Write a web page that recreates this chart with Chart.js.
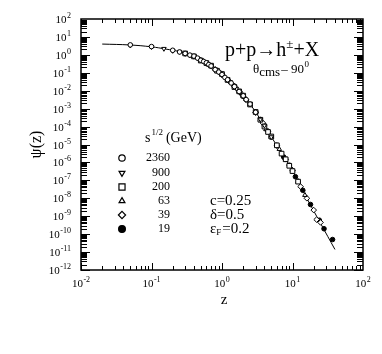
<!DOCTYPE html>
<html>
<head>
<meta charset="utf-8">
<script src="https://cdn.jsdelivr.net/npm/chart.js@4.4.1/dist/chart.umd.min.js"></script>
<style>
html, body { margin: 0; padding: 0; background: #fff; }
</style>
</head>
<body>
<canvas id="myChart" width="382" height="354"></canvas>
<script>
// values
var energies = ['2360', '900', '200', '63', '39', '19'];

var z2360   = [0.05, 0.1, 0.2, 0.25, 0.3, 0.35, 0.4, 0.45, 0.5, 0.55, 0.6, 0.65, 0.7, 0.8, 0.9, 1.0, 1.1, 1.2, 1.35, 1.5, 1.75, 2.0, 2.2, 2.5, 3.0];
var psi2360 = [3.6, 2.9, 1.8, 1.45, 1.2, 0.97, 0.85, 0.66, 0.5, 0.43, 0.36, 0.29, 0.24, 0.15, 0.11, 0.08, 0.055, 0.041, 0.027, 0.017, 9.0e-3, 5.2e-3, 3.2e-3, 1.8e-3, 6.3e-4];

var z900   = [0.05, 0.1, 0.15, 0.2, 0.25, 0.3, 0.35, 0.4, 0.45, 0.5, 0.6, 0.7, 0.8, 0.9, 1.0, 1.15, 1.3, 1.6, 1.8, 2.0, 2.5, 3.0, 3.5, 4.0, 5.0];
var psi900 = [3.4, 2.8, 2.2, 1.7, 1.5, 1.15, 0.95, 0.8, 0.64, 0.53, 0.33, 0.23, 0.16, 0.11, 0.075, 0.047, 0.031, 0.013, 7.9e-3, 4.8e-3, 1.9e-3, 6.0e-4, 2.5e-4, 1.15e-4, 2.6e-5];

var z200   = [0.3, 0.4, 0.5, 0.6, 0.7, 0.85, 1.0, 1.2, 1.5, 1.75, 2.0, 2.5, 3.0, 3.5, 4.0, 4.5, 5.0, 6.0, 7.0, 8.0, 9.0, 10, 12];
var psi200 = [1.2, 0.82, 0.48, 0.35, 0.25, 0.13, 0.085, 0.04, 0.016, 9.2e-3, 5.3e-3, 1.7e-3, 6.5e-4, 2.4e-4, 1.0e-4, 5.0e-5, 2.8e-5, 9.0e-6, 3.1e-6, 1.5e-6, 6.5e-7, 3.3e-7, 8.5e-8];

var z63   = [0.5, 0.65, 0.8, 1.0, 1.2, 1.5, 1.8, 2.2, 2.5, 3.0, 3.5, 4.2, 5.0, 6.5, 8.0, 10, 12, 15];
var psi63 = [0.52, 0.28, 0.16, 0.082, 0.038, 0.017, 8.2e-3, 3.3e-3, 1.7e-3, 6.2e-4, 2.5e-4, 7.0e-5, 2.6e-5, 5.5e-6, 1.4e-6, 3.8e-7, 9.0e-8, 1.5e-8];

var z39   = [0.6, 0.8, 1.0, 1.25, 1.5, 1.8, 2.2, 3.0, 3.8, 4.5, 6.0, 8.0, 10, 13, 16, 20, 22, 25];
var psi39 = [0.34, 0.15, 0.082, 0.035, 0.018, 8.0e-3, 3.1e-3, 6.0e-4, 1.6e-4, 5.5e-5, 8.5e-6, 1.5e-6, 3.6e-7, 4.5e-8, 1.0e-8, 2.2e-9, 6.5e-10, 4.5e-10];

var z19   = [1.0, 1.5, 2.0, 3.0, 4.0, 5.0, 6.0, 7.5, 9.0, 11, 14, 18, 24, 28, 37];
var psi19 = [0.078, 0.018, 5.0e-3, 6.3e-4, 1.1e-4, 2.6e-5, 9.0e-6, 2.0e-6, 7.0e-7, 1.6e-7, 2.8e-8, 4.5e-9, 6.0e-10, 2.0e-10, 5.0e-11];

// fitted curve
var fitZ   = [0.02, 0.05, 0.1, 0.16, 0.25, 0.4, 0.63, 1, 1.6, 2.5, 4, 6.3, 10, 16, 25, 40];
var fitPsi = [4.0, 3.55, 2.8, 2.1, 1.5, 0.83, 0.32, 0.079, 0.014, 1.8e-3, 1.1e-4, 6.3e-6, 3.5e-7, 1.0e-8, 4.0e-10, 1.4e-11];

// tick labels (powers of ten)
var xTickExp = [-2, -1, 0, 1, 2];
var yTickExp = [2, 1, 0, -1, -2, -3, -4, -5, -6, -7, -8, -9, -10, -11, -12];

var serif = "'Liberation Serif', 'DejaVu Serif', serif";

function pts(zs, ps) {
    var out = [];
    for (var i = 0; i < zs.length; i++) out.push({x: zs[i], y: ps[i]});
    return out;
}

var markers = [
    {style: 'circle',   rot: 0,   fill: '#fff', r: 2.3, lr: 3.2},
    {style: 'triangle', rot: 180, fill: '#fff', r: 2.6, lr: 3.4},
    {style: 'rect',     rot: 0,   fill: '#fff', r: 3.3, lr: 4.3},
    {style: 'triangle', rot: 0,   fill: '#fff', r: 2.6, lr: 3.4},
    {style: 'rectRot',  rot: 0,   fill: '#fff', r: 2.8, lr: 3.6},
    {style: 'circle',   rot: 0,   fill: '#000', r: 2.3, lr: 3.4}
];
var series = [
    pts(z2360, psi2360), pts(z900, psi900), pts(z200, psi200),
    pts(z63, psi63), pts(z39, psi39), pts(z19, psi19)
];

var datasets = [];
for (var i = 0; i < series.length; i++) {
    datasets.push({
        type: 'scatter',
        label: energies[i],
        data: series[i],
        pointStyle: markers[i].style,
        rotation: markers[i].rot,
        pointRadius: markers[i].r,
        pointBackgroundColor: markers[i].fill,
        pointBorderColor: '#000',
        pointBorderWidth: 1,
        showLine: false
    });
}
datasets.push({
    type: 'line',
    label: 'fit',
    data: pts(fitZ, fitPsi),
    borderColor: '#000',
    borderWidth: 1,
    pointRadius: 0,
    tension: 0.4,
    fill: false
});

function drawPow(ctx, exp, x, y, align) {
    ctx.font = '11px ' + serif;
    var wb = ctx.measureText('10').width;
    ctx.font = '8px ' + serif;
    var ws = ctx.measureText(String(exp)).width;
    var w = wb + ws + 0.5;
    var x0 = align === 'right' ? x - w : x - w / 2;
    ctx.textAlign = 'left';
    ctx.textBaseline = 'alphabetic';
    ctx.font = '11px ' + serif;
    ctx.fillText('10', x0, y);
    ctx.font = '8px ' + serif;
    ctx.fillText(String(exp), x0 + wb + 0.5, y - 5);
}

var framePlugin = {
    id: 'frame',
    afterDraw: function(chart) {
        var ctx = chart.ctx, a = chart.chartArea;
        var xs = chart.scales.x, ys = chart.scales.y;
        ctx.save();
        ctx.strokeStyle = '#000';
        ctx.fillStyle = '#000';
        ctx.lineWidth = 1.5;
        ctx.strokeRect(a.left, a.top, a.right - a.left, a.bottom - a.top);

        // inward ticks
        ctx.lineWidth = 1;
        ctx.beginPath();
        var k, m, v, p, len;
        for (k = xTickExp[0]; k < xTickExp[xTickExp.length - 1]; k++) {
            for (m = 1; m < 10; m++) {
                v = m * Math.pow(10, k);
                p = Math.round(xs.getPixelForValue(v)) + 0.5;
                len = m === 1 ? 7 : 4;
                ctx.moveTo(p, a.bottom); ctx.lineTo(p, a.bottom - len);
                ctx.moveTo(p, a.top); ctx.lineTo(p, a.top + len);
            }
        }
        for (k = yTickExp[yTickExp.length - 1]; k < yTickExp[0]; k++) {
            for (m = 1; m < 10; m++) {
                v = m * Math.pow(10, k);
                p = Math.round(ys.getPixelForValue(v)) + 0.5;
                len = m === 1 ? 9 : 6;
                ctx.moveTo(a.left, p); ctx.lineTo(a.left + len, p);
                ctx.moveTo(a.right, p); ctx.lineTo(a.right - len, p);
            }
        }
        ctx.stroke();

        // tick labels
        xTickExp.forEach(function(e) {
            drawPow(ctx, e, xs.getPixelForValue(Math.pow(10, e)), a.bottom + 17, 'center');
        });
        yTickExp.forEach(function(e) {
            drawPow(ctx, e, a.left - 10, ys.getPixelForValue(Math.pow(10, e)) + 4, 'right');
        });

        // axis titles
        ctx.textAlign = 'center';
        ctx.textBaseline = 'middle';
        ctx.font = '15px ' + serif;
        ctx.fillText('z', (a.left + a.right) / 2 + 2, a.bottom + 30);
        ctx.save();
        ctx.translate(37, (a.top + a.bottom) / 2);
        ctx.rotate(-Math.PI / 2);
        ctx.font = '16px ' + serif;
        ctx.fillText('\u03C8(z)', 0, 0);
        ctx.restore();

        // reaction
        ctx.textAlign = 'left';
        ctx.textBaseline = 'alphabetic';
        var x = 225, y = 56;
        ctx.font = '20px ' + serif;
        ctx.fillText('p+p\u2192h', x, y);
        x += ctx.measureText('p+p\u2192h').width;
        ctx.font = '13px ' + serif;
        ctx.fillText('\u00B1', x, y - 8);
        x += ctx.measureText('\u00B1').width;
        ctx.font = '20px ' + serif;
        ctx.fillText('+X', x, y);

        x = 253; y = 73;
        ctx.font = '13px ' + serif;
        ctx.fillText('\u03B8', x, y);
        x += ctx.measureText('\u03B8').width;
        ctx.fillText('cms', x, y + 3);
        x += ctx.measureText('cms').width + 1;
        ctx.fillText('\u2013 90', x, y);
        x += ctx.measureText('\u2013 90').width + 0.5;
        ctx.font = '9px ' + serif;
        ctx.fillText('0', x, y - 6);

        // legend
        x = 145; y = 142;
        ctx.font = '14px ' + serif;
        ctx.fillText('s', x, y);
        x += ctx.measureText('s').width + 1;
        ctx.font = '9px ' + serif;
        ctx.fillText('1/2', x, y - 7);
        x += ctx.measureText('1/2').width + 3;
        ctx.font = '14px ' + serif;
        ctx.fillText('(GeV)', x, y);

        var rows = [158, 173, 187, 201, 215, 229];
        for (var i = 0; i < energies.length; i++) {
            ctx.fillStyle = markers[i].fill;
            ctx.strokeStyle = '#000';
            ctx.lineWidth = 1.2;
            Chart.helpers.drawPoint(ctx, {
                pointStyle: markers[i].style,
                rotation: markers[i].rot,
                radius: markers[i].lr,
                borderWidth: 1.2
            }, 122, rows[i]);
            ctx.fillStyle = '#000';
            ctx.font = '12px ' + serif;
            ctx.textAlign = 'right';
            ctx.textBaseline = 'middle';
            ctx.fillText(energies[i], 170, rows[i]);
        }

        ctx.textAlign = 'left';
        ctx.textBaseline = 'middle';
        ctx.font = '15px ' + serif;
        ctx.fillText('c=0.25', 210, rows[3]);
        ctx.fillText('\u03B4=0.5', 210, rows[4]);
        ctx.fillText('\u03B5', 210, rows[5]);
        var we = ctx.measureText('\u03B5').width;
        ctx.font = '9px ' + serif;
        ctx.fillText('F', 210 + we, rows[5] + 4);
        ctx.font = '15px ' + serif;
        ctx.fillText('=0.2', 210 + we + 6, rows[5]);
        ctx.restore();
    }
};

var ctx = document.getElementById('myChart').getContext('2d');
var myChart = new Chart(ctx, {
    data: { datasets: datasets },
    options: {
        responsive: false,
        animation: false,
        devicePixelRatio: 1,
        layout: { padding: { left: 81, top: 19, right: 19, bottom: 84 } },
        plugins: { legend: { display: false }, tooltip: { enabled: false } },
        scales: {
            x: { type: 'logarithmic', min: 0.01, max: 100, display: false },
            y: { type: 'logarithmic', min: 1e-12, max: 100, display: false }
        }
    },
    plugins: [framePlugin]
});
</script>
</body>
</html>
